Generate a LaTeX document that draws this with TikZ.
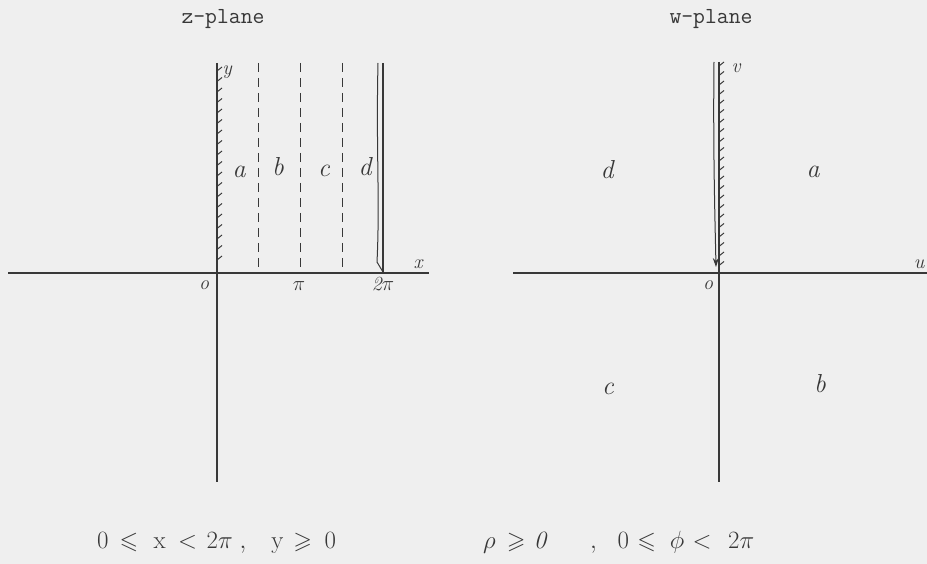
\documentclass[tikz,border=0pt]{standalone}
\usepackage{amssymb}
\usetikzlibrary{arrows.meta}
\definecolor{bg}{HTML}{EFEFEF}
\definecolor{ink}{HTML}{383838}
\begin{document}
\begin{tikzpicture}[x=1pt,y=-1pt,
  axis/.style={draw=ink,line width=1.3pt},
  divline/.style={draw=ink,line width=1pt,dash pattern=on 9pt off 6pt},
  hatch/.style={draw=ink,line width=1pt},
  title/.style={font=\ttfamily\fontsize{23}{26}\selectfont,text=ink,inner sep=0pt},
  hand/.style={font=\itshape\fontsize{26}{30}\selectfont,text=ink,inner sep=0pt},
  small/.style={font=\itshape\fontsize{20}{24}\selectfont,text=ink,inner sep=0pt},
  formula/.style={font=\fontsize{24}{28}\selectfont,text=ink,inner sep=0pt}]
\fill[bg] (0,0) rectangle (927,564);
\useasboundingbox (0,0) rectangle (927,564);
% ---------- z-plane ----------
\node[title] (zt) at (223,19) {z-plane};
\coordinate (zxl) at (8,273);
\coordinate (zxr) at (429,273);
\coordinate (zyt) at (217,63);
\coordinate (zyb) at (217,482);
\draw[axis] (zxl) -- (zxr);
\draw[axis] (zyt) -- (zyb);
\foreach \yy in {71,81.5,...,270}{\draw[hatch] (217,\yy) -- (222,\yy-4);}
\foreach \xx/\nm in {258/d1,300/d2,342/d3}{
  \coordinate (\nm t) at (\xx,63);
  \coordinate (\nm b) at (\xx,272);
  \draw[divline] (\nm t) -- (\nm b);
}
\coordinate (z2t) at (383,63);
\coordinate (z2b) at (383,272);
\draw[axis] (z2t) -- (z2b);
\draw[draw=ink,line width=1pt] (378,63) .. controls (376,150) and (380,200) .. (377,262) -- (383,272);
\node[hand] (za) at (239,172) {a};
\node[hand] (zb) at (278,167) {b};
\node[hand] (zc) at (324,171) {c};
\node[hand] (zd) at (365,167) {d};
\node[small] (zy) at (227,72) {y};
\node[small] (zx) at (418,264) {x};
\node[small] (zo) at (204,285) {o};
\node[small] (zpi) at (299,286) {$\pi$};
\node[small] (z2pi) at (383,284) {2$\pi$};
% ---------- w-plane ----------
\node[title] (wt) at (711,19) {w-plane};
\coordinate (wxl) at (513,273);
\coordinate (wxr) at (927,273);
\coordinate (wyt) at (719,62);
\coordinate (wyb) at (719,482);
\draw[axis] (wxl) -- (wxr);
\draw[axis] (wyt) -- (wyb);
\foreach \yy in {66,75.5,...,268}{\draw[hatch] (719,\yy) -- (724,\yy-4);}
\coordinate (wat) at (714,62);
\coordinate (wab) at (716,267);
\draw[draw=ink,line width=1pt,-{Stealth[length=9pt,width=6pt]}] (wat) .. controls (713,150) and (715,220) .. (wab);
\node[small] (wv) at (736,68) {v};
\node[small] (wu) at (919,264) {u};
\node[small] (wo) at (708,285) {o};
\node[hand] (wd) at (607,170) {d};
\node[hand] (wa) at (813,172) {a};
\node[hand] (wc) at (608,389) {c};
\node[hand] (wb) at (820,384) {b};
% ---------- formulas ----------
\node[formula,anchor=base west] (fz) at (97,548)
  {$0\mkern8mu{\leqslant}\mkern11mu\mathrm{x}\mkern9mu{<}\mkern7mu2\pi\mkern5mu,\mkern15mu\mathrm{y}\mkern7mu{\geqslant}\mkern9mu0$};
\node[formula,anchor=base west] (fr) at (483,548) {$\rho\mkern8mu{\geqslant}\mkern6mu\mathit{0}$};
\node[formula,anchor=base west] (fp) at (590,548) {$,\mkern12mu0\mkern6mu{\leqslant}\mkern10mu\phi\mkern6mu{<}\mkern12mu2\pi$};
\end{tikzpicture}
\end{document}
